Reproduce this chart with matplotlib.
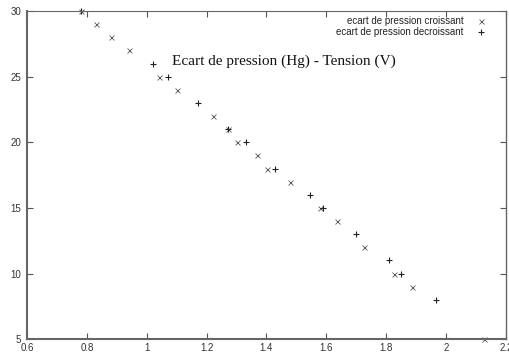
import matplotlib
matplotlib.use("Agg")
import matplotlib.pyplot as plt

# tension (V) vs ecart de pression (Hg)
x_croissant = [0.78, 0.83, 0.88, 0.94, 1.04, 1.10, 1.22, 1.27, 1.30, 1.37,
               1.403, 1.477, 1.58, 1.636, 1.727, 1.827, 1.886, 2.127]
y_croissant = [30, 29, 28, 27, 25, 24, 22, 21, 20, 19,
               18, 17, 15, 14, 12, 10, 9, 5]

x_decroissant = [0.78, 1.02, 1.07, 1.17, 1.27, 1.33, 1.43, 1.547, 1.59,
                 1.70, 1.808, 1.849, 1.968]
y_decroissant = [30, 26, 25, 23, 21, 20, 18, 16, 15, 13, 11, 10, 8]

xticks = [0.6, 0.8, 1, 1.2, 1.4, 1.6, 1.8, 2, 2.2]
yticks = [5, 10, 15, 20, 25, 30]
title = "Ecart de pression (Hg) - Tension (V)"
labels = ["ecart de pression croissant", "ecart de pression decroissant"]

fig = plt.figure(figsize=(5.09, 3.57), dpi=100)
ax = fig.add_axes([0.053, 0.050, 0.941, 0.919])

ax.plot(x_croissant, y_croissant, ls="none", marker="x", ms=3.6, mew=0.6,
        color="#5a5a5a", label=labels[0], clip_on=False)
ax.plot(x_decroissant, y_decroissant, ls="none", marker="+", ms=4.8, mew=0.8,
        color="#222222", label=labels[1], clip_on=False)

ax.set_xlim(0.6, 2.2)
ax.set_ylim(5, 30)
ax.set_xticks(xticks)
ax.set_xticklabels(["%g" % v for v in xticks])
ax.set_yticks(yticks)
ax.tick_params(direction="in", top=True, right=True, length=4, width=0.8,
               color="#555555", labelsize=7, labelcolor="#333333")
ax.tick_params(axis="x", pad=3)
ax.tick_params(axis="y", pad=4)
for lab in ax.get_xticklabels() + ax.get_yticklabels():
    lab.set_family("Liberation Sans")

for side, lw in (("left", 1.5), ("bottom", 1.5), ("top", 0.8), ("right", 1.0)):
    ax.spines[side].set_linewidth(lw)
    ax.spines[side].set_color("#666666")

ax.text(1.083, 25.88, title, family="Liberation Serif", fontsize=11,
        va="baseline", ha="left", color="#111111")

leg = ax.legend(loc="upper right", bbox_to_anchor=(0.971, 1.0),
                markerfirst=False, frameon=False,
                prop={"family": "Liberation Sans", "size": 7},
                handlelength=1.2, handletextpad=1.2, labelspacing=0.15,
                borderaxespad=0.3, borderpad=0.2)
for t in leg.get_texts():
    t.set_color("#222222")

fig.savefig("out.png", dpi=100)
